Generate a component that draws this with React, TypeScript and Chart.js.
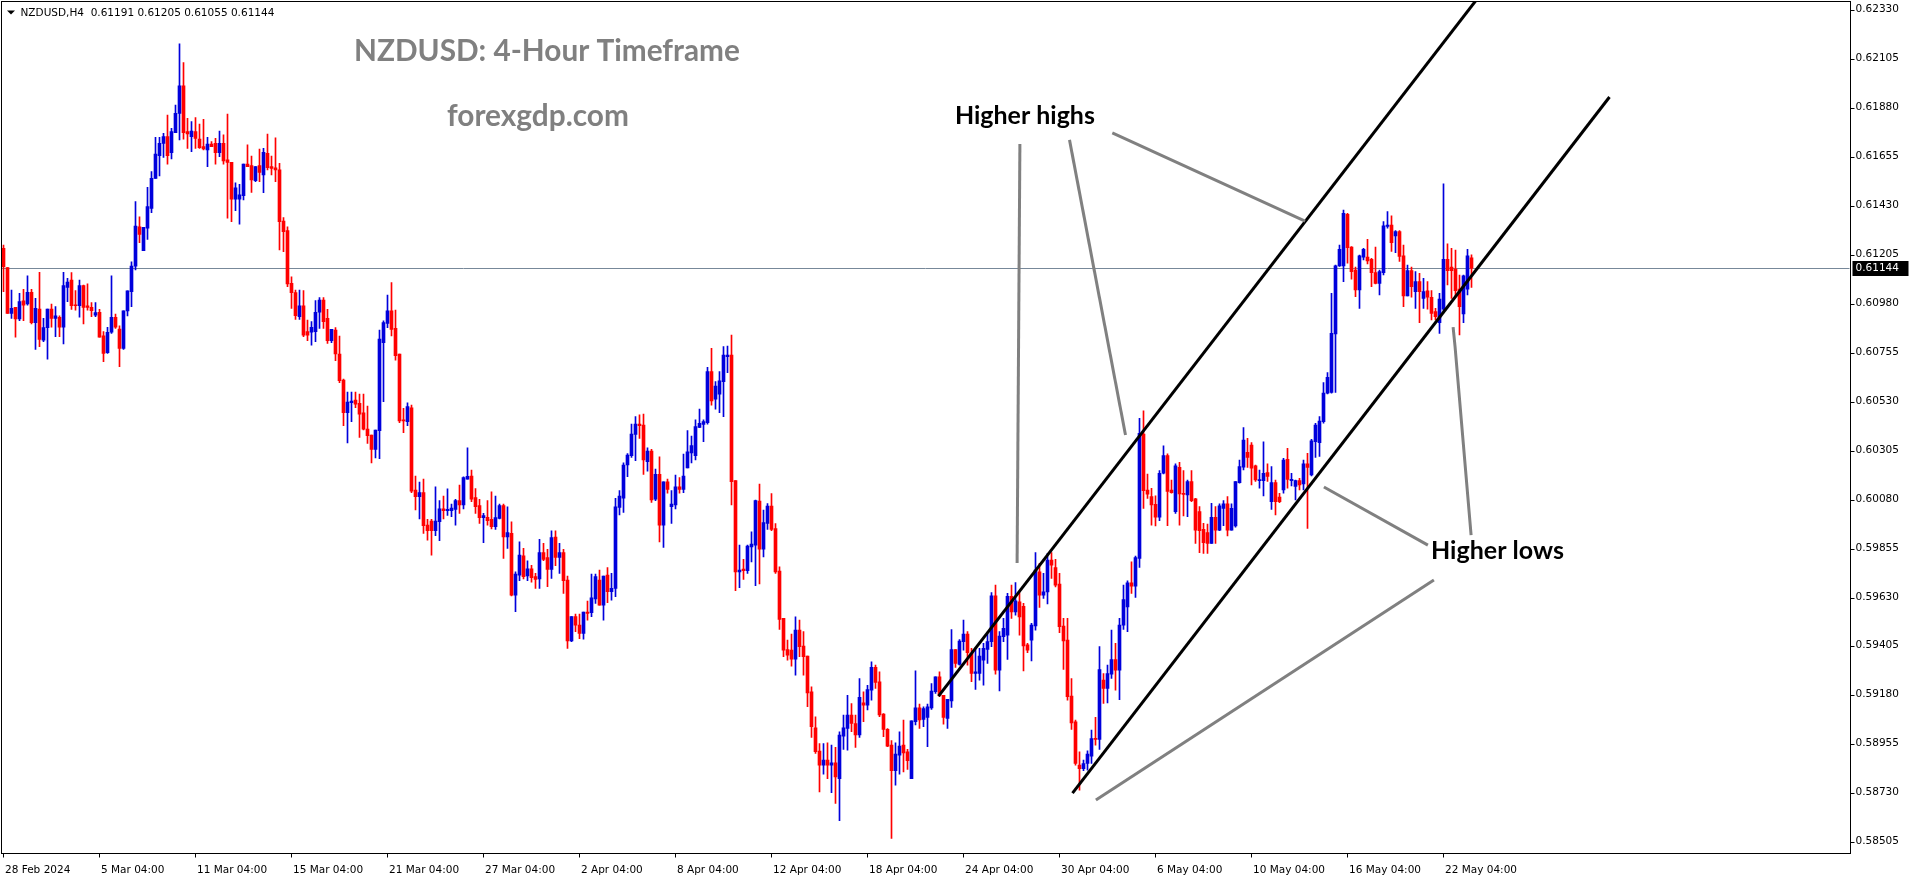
import React, { useEffect, useRef } from "react";
import { Chart, registerables } from "chart.js";

Chart.register(...registerables);

// ---------- data (prices in points, 1 point = 0.00001) ----------
const SYMBOL = "NZDUSD";
const TIMEFRAME = "H4";
const POINT = 0.00001;

const opens = [
61235,61146,60936,60963,60910,60993,60979,61032,60893,60956,60813,60870,60956,60913,60918,60872,61055,61089,60974,60971,
61063,60970,60963,60927,60941,60833,60755,60849,60918,60864,60775,60947,61036,61153,61334,61224,61327,61418,61556,61661,
61717,61748,61674,61766,61855,61981,61771,61748,61771,61737,61702,61687,61714,61717,61674,61717,61641,61630,61461,61461,
61477,61622,61615,61546,61615,61572,61671,61610,61605,61595,61360,61316,61074,61031,60921,60970,60852,60849,60852,60941,
60997,60913,60810,60859,60749,60629,60479,60525,60537,60522,60479,60404,60377,60311,60397,60801,60890,60948,60867,60749,
60446,60438,60502,60124,60093,60112,59963,59981,59937,59978,60037,60029,60029,60035,60075,60055,60174,60188,60089,60052,
59997,59998,59989,59955,59994,60052,59909,59925,59641,59733,59821,59729,59762,59726,59715,59836,59813,59759,59908,59814,
59836,59710,59431,59542,59503,59465,59563,59560,59623,59710,59595,59733,59657,59672,60044,60086,60239,60282,60380,60427,
60423,60254,60303,60082,60196,59963,60162,60047,60055,60139,60127,60226,60295,60282,60412,60426,60433,60668,60541,60564,
60622,60737,60744,60167,59748,59761,59753,59863,59871,60073,59852,59970,60050,59947,59751,59534,59391,59388,59347,59480,
59407,59361,59197,59031,58924,58860,58883,58860,58870,58798,58993,59028,59090,59051,58998,59146,59135,59204,59309,59243,
59094,59024,58952,58834,58906,58952,58921,58798,59059,59123,59070,59079,59123,59197,59266,59181,59074,59155,59391,59322,
59427,59462,59373,59281,59281,59342,59391,59427,59638,59296,59450,59457,59636,59564,59610,59590,59412,59434,59499,59748,
59641,59656,59802,59767,59692,59499,59434,59177,59059,58860,58844,58867,58901,58982,58978,59250,59212,59278,59345,59296,
59503,59587,59698,59682,59810,60381,60124,60094,60058,59999,60201,60282,60124,60025,60228,60109,60102,60163,60083,60025,
59943,59928,59879,59999,59940,60040,60060,59940,59959,60158,60229,60297,60331,60235,60167,60167,60204,60071,60158,60091,
60124,60265,60167,60140,60167,60152,60244,60193,60346,60342,60438,60569,60572,60841,61154,61154,61391,61240,61135,61044,
61194,61194,61184,61123,61074,61123,61335,61342,61292,61312,61200,61016,61132,61036,61082,61005,61039,61010,60944,60893,
60955,61184,61148,61139,61047,60933,61047,61191
];

const highs = [
61250,61146,61043,60963,61028,61046,61108,61046,61005,61124,60913,60956,60979,60967,60925,61124,61097,61123,61040,61089,
61066,61071,60985,60985,60954,60852,60872,61108,60933,60879,60947,61039,61173,61449,61380,61331,61515,61587,61745,61745,
61763,61847,61786,61893,62174,62088,61832,61817,61835,61806,61828,61745,61725,61740,61774,61756,61852,61630,61536,61529,
61622,61710,61659,61610,61691,61694,61760,61659,61743,61625,61376,61334,61104,61043,61043,61040,60905,60898,60994,61008,
61008,60954,60862,60871,60832,60634,60574,60574,60574,60565,60565,60510,60377,60400,60859,60902,61020,61077,60951,60749,
60499,60525,60514,60188,60161,60174,59989,59989,60139,60075,60096,60130,60059,60081,60147,60185,60318,60216,60131,60081,
60017,60075,60116,60096,60059,60059,60047,59978,59748,59886,59856,59799,59778,59741,59897,59879,59851,59937,59937,59879,
59851,59729,59542,59554,59554,59563,59614,59738,59738,59756,59729,59768,59741,60086,60121,60249,60292,60427,60461,60469,
60473,60318,60311,60220,60277,60162,60174,60121,60193,60181,60289,60397,60372,60446,60496,60446,60688,60775,60622,60668,
60783,60786,60836,60167,59871,59805,59871,59932,60078,60151,60032,60062,60108,59970,59771,59534,59434,59462,59541,59526,
59473,59361,59220,59082,58959,58959,58962,58952,58941,59013,59090,59181,59143,59090,59258,59197,59227,59335,59319,59289,
59097,59028,58972,58962,59013,59067,58932,59063,59293,59140,59128,59140,59235,59266,59289,59181,59162,59483,59391,59437,
59526,59473,59396,59396,59396,59419,59462,59653,59687,59473,59534,59649,59687,59699,59652,59603,59419,59511,59836,59787,
59741,59833,59836,59805,59741,59534,59534,59258,59067,58921,58883,58926,59021,59079,59404,59281,59319,59480,59419,59534,
59687,59707,59794,59820,60453,60488,60197,60132,60097,60213,60327,60290,60170,60244,60251,60213,60170,60213,60086,60048,
59971,59968,60063,60048,60060,60075,60094,60060,60163,60262,60411,60362,60342,60239,60216,60346,60244,60232,60170,60109,
60270,60316,60201,60170,60178,60262,60293,60357,60431,60461,60618,60664,61028,61158,61250,61411,61396,61243,61148,61204,
61235,61276,61189,61240,61135,61358,61404,61384,61316,61316,61250,61158,61148,61128,61120,61097,61082,61040,60959,61028,
61531,61255,61235,61227,61112,61112,61230,61205
];

const lows = [
61036,60936,60913,60826,60902,60902,60974,60887,60770,60783,60806,60725,60872,60829,60829,60795,60990,60954,60951,60918,
60887,60951,60921,60921,60826,60714,60752,60844,60867,60691,60770,60924,60967,61135,61261,61224,61276,61399,61556,61567,
61653,61621,61645,61766,61733,61736,61694,61679,61694,61694,61687,61610,61702,61621,61656,61622,61373,61357,61408,61346,
61457,61610,61492,61541,61541,61490,61595,61572,61541,61227,61219,61058,60959,60908,60908,60829,60810,60790,60806,60867,
60867,60798,60801,60718,60617,60420,60341,60438,60502,60366,60400,60338,60249,60272,60268,60530,60870,60832,60721,60433,
60387,60420,60112,60032,59991,59925,59894,59825,59914,59891,59991,60007,60001,59963,60017,60037,60174,60070,60017,59971,
59882,59963,59945,59943,59991,59810,59856,59637,59565,59707,59715,59707,59701,59672,59672,59799,59680,59718,59776,59741,
59649,59396,59427,59473,59441,59438,59526,59542,59603,59595,59526,59606,59618,59634,60009,60021,60185,60274,60259,60361,
60196,60211,60067,60075,59886,59860,60109,59971,60037,60109,60112,60226,60249,60262,60410,60346,60427,60514,60496,60479,
60461,60663,60055,59661,59675,59713,59741,59794,59684,59692,59817,59943,59937,59741,59483,59358,59342,59315,59273,59358,
59273,59128,58987,58913,58737,58818,58798,58733,58684,58604,58932,58929,59013,58941,58987,59059,59113,59158,59212,59082,
58990,58944,58523,58768,58818,58829,58840,58798,59044,59028,59036,58944,59116,59189,59174,59048,59028,59125,59309,59319,
59388,59319,59243,59208,59250,59227,59327,59404,59278,59201,59427,59345,59534,59549,59457,59293,59376,59339,59480,59584,
59626,59600,59718,59679,59468,59299,59158,59024,58860,58745,58834,58837,58867,58952,58932,59143,59146,59258,59204,59161,
59483,59473,59649,59630,59768,60039,60085,59963,59959,59983,60198,59960,60109,60017,59963,60005,60002,60071,59879,59836,
59833,59833,59879,59879,59937,59960,59913,59940,59953,60155,60216,60228,60147,60163,60132,60097,60163,60035,60009,60066,
60109,60132,60143,60078,60124,60124,59948,60189,60274,60278,60431,60566,60569,60572,61151,61082,61166,61093,61013,60959,
61181,61163,61059,61071,61021,61112,61327,61220,61215,61174,60967,61016,61010,60959,60893,60959,60955,60906,60906,60844,
60939,61066,61005,61013,60837,60893,61021,61055
];

const closes = [
61150,60936,60959,60910,60990,60974,61032,60893,60959,60816,60870,60956,60913,60924,60872,61063,61080,60971,60971,61063,
60963,60963,60948,60939,60826,60752,60849,60918,60872,60775,60947,61039,61153,61337,61299,61331,61426,61556,61668,61717,
61748,61661,61771,61855,61981,61766,61760,61774,61740,61697,61691,61714,61702,61674,61717,61636,61630,61461,61513,61480,
61622,61610,61549,61610,61584,61676,61605,61602,61595,61357,61311,61071,61031,60925,60970,60836,60836,60872,60941,60997,
60898,60810,60862,60749,60626,60479,60528,60533,60519,60473,60404,60374,60311,60400,60818,60893,60948,60862,60741,60442,
60442,60507,60119,60093,60112,59960,59937,59937,59981,60037,60029,60035,60041,60075,60055,60181,60187,60082,60047,59997,
60006,59983,59955,59997,60052,59909,59928,59641,59738,59825,59726,59762,59721,59713,59836,59805,59759,59905,59814,59836,
59707,59431,59542,59503,59465,59563,59557,59629,59726,59595,59729,59657,59672,60047,60096,60239,60285,60381,60427,60420,
60262,60303,60078,60196,59963,60162,60127,60059,60139,60127,60188,60300,60328,60415,60430,60438,60668,60534,60602,60626,
60744,60744,60162,59748,59756,59753,59866,59875,60075,59852,59974,60050,59943,59748,59529,59388,59365,59347,59480,59404,
59358,59192,59036,58921,58860,58883,58860,58870,58806,58998,59031,59090,59051,58998,59171,59135,59207,59309,59240,59090,
59024,58947,58834,58910,58947,58916,58880,59063,59123,59067,59120,59128,59200,59266,59181,59079,59162,59391,59327,59430,
59462,59376,59281,59289,59361,59396,59427,59638,59296,59453,59488,59636,59564,59615,59541,59407,59388,59503,59756,59641,
59656,59802,59779,59687,59496,59431,59174,59054,58867,58844,58867,58910,58982,58978,59299,59212,59281,59345,59296,59503,
59621,59698,59682,59813,60384,60121,60105,60055,59999,60201,60282,60117,60112,60235,60106,60104,60163,60075,59940,59937,
59882,59879,59999,59940,60051,60060,59940,60040,60163,60232,60354,60274,60224,60170,60170,60201,60186,60158,60071,60071,
60262,60173,60173,60167,60147,60244,60228,60350,60423,60441,60569,60642,60844,61154,61230,61396,61238,61128,61044,61200,
61230,61177,61123,61074,61128,61338,61342,61261,61312,61197,61016,61132,61059,61082,61036,61036,61010,60936,60921,61001,
61184,61132,61132,61040,60967,61108,61200,61144
];

// x axis: one slot per 4-hour bar (chart leaves empty room on the right)
const TOTAL_SLOTS = 462;
const X_TICK_STEP = 24;
const xTickLabels = [
  "28 Feb 2024", "5 Mar 04:00", "11 Mar 04:00", "15 Mar 04:00", "21 Mar 04:00", "27 Mar 04:00",
  "2 Apr 04:00", "8 Apr 04:00", "12 Apr 04:00", "18 Apr 04:00", "24 Apr 04:00", "30 Apr 04:00",
  "6 May 04:00", "10 May 04:00", "16 May 04:00", "22 May 04:00",
];

// y axis
const yTickValues = [
  0.6233, 0.62105, 0.6188, 0.61655, 0.6143, 0.61205, 0.6098, 0.60755, 0.6053,
  0.60305, 0.6008, 0.59855, 0.5963, 0.59405, 0.5918, 0.58955, 0.5873, 0.58505,
];
const Y_MIN = 0.584605;
const Y_MAX = 0.623713;

// annotations (bar index, price)
const TITLE = "NZDUSD: 4-Hour Timeframe";
const SITE = "forexgdp.com";
const LABEL_HIGHS = "Higher highs";
const LABEL_LOWS = "Higher lows";
const channelUpper: number[][] = [[233.75, 0.59177], [368, 0.62371]];
const channelLower: number[][] = [[267.25, 0.58731], [401.5, 0.6193]];
const pointerLines: number[][][] = [
  [[254.1, 0.61714], [253.4, 0.59789]],
  [[266.5, 0.61733], [280.5, 0.60377]],
  [[277.2, 0.61765], [325.4, 0.6136]],
  [[330.1, 0.60138], [356.1, 0.59871]],
  [[273.1, 0.58699], [357.6, 0.5971]],
  [[362.4, 0.60873], [362.9, 0.60781], [366.9, 0.59917]],
];

const BULL = "#0000dc";
const BEAR = "#ff0000";

// ---------- derived ----------
const last = closes.length - 1;
const CURRENT_PRICE = closes[last] * POINT;
const fmt = (v: number) => v.toFixed(5);
const HEADER = `${SYMBOL},${TIMEFRAME}  ${fmt(opens[last] * POINT)} ${fmt(highs[last] * POINT)} ${fmt(lows[last] * POINT)} ${fmt(closes[last] * POINT)}`;

const slotLabels = Array.from({ length: TOTAL_SLOTS }, (_, i) => String(i));
const bodies = closes.map((c, i) => [Math.min(opens[i], c) * POINT, Math.max(opens[i], c) * POINT]);
const wicks = closes.map((c, i) => [
  Math.min(lows[i], opens[i], c) * POINT,
  Math.max(highs[i], opens[i], c) * POINT,
]);
const colors = closes.map((c, i) => (c >= opens[i] ? BULL : BEAR));

const AXIS_FONT = "10.5px 'DejaVu Sans'";

function drawFitted(ctx: CanvasRenderingContext2D, text: string, x: number, baseline: number, width: number, color: string) {
  ctx.font = "bold 100px Lato";
  const w = ctx.measureText(text).width;
  const size = (100 * width) / w;
  ctx.font = `bold ${size}px Lato`;
  ctx.fillStyle = color;
  ctx.textAlign = "left";
  ctx.textBaseline = "alphabetic";
  ctx.fillText(text, x, baseline);
}

const overlay = {
  id: "mt4overlay",
  beforeDraw(chart: any) {
    const { ctx, width, height } = chart;
    ctx.save();
    ctx.fillStyle = "#ffffff";
    ctx.fillRect(0, 0, width, height);
    ctx.restore();
  },
  beforeDatasetsDraw(chart: any) {
    const { ctx, chartArea } = chart;
    const y = Math.round(chart.scales.y.getPixelForValue(CURRENT_PRICE)) + 0.5;
    ctx.save();
    ctx.strokeStyle = "#778899";
    ctx.lineWidth = 1;
    ctx.beginPath();
    ctx.moveTo(chartArea.left, y);
    ctx.lineTo(chartArea.right, y);
    ctx.stroke();
    ctx.restore();
  },
  afterDatasetsDraw(chart: any) {
    const { ctx, chartArea } = chart;
    const xs = chart.scales.x;
    const ys = chart.scales.y;
    const px = (p: number[]) => [xs.getPixelForValue(p[0]), ys.getPixelForValue(p[1])];

    ctx.save();
    ctx.beginPath();
    ctx.rect(chartArea.left, chartArea.top, chartArea.right - chartArea.left, chartArea.bottom - chartArea.top);
    ctx.clip();
    const poly = (pts: number[][], color: string, w: number) => {
      ctx.strokeStyle = color;
      ctx.lineWidth = w;
      ctx.lineCap = "butt";
      ctx.lineJoin = "round";
      ctx.beginPath();
      pts.forEach((p, i) => {
        const [x, y] = px(p);
        if (i === 0) ctx.moveTo(x, y);
        else ctx.lineTo(x, y);
      });
      ctx.stroke();
    };
    poly(channelUpper, "#000000", 3);
    poly(channelLower, "#000000", 3);
    pointerLines.forEach((l) => poly(l, "#808080", 3));

    drawFitted(ctx, TITLE, 354, 61, 386, "#808080");
    drawFitted(ctx, SITE, 447, 126, 182, "#808080");
    drawFitted(ctx, LABEL_HIGHS, 955, 124, 140, "#000000");
    drawFitted(ctx, LABEL_LOWS, 1431, 559, 133, "#000000");
    ctx.restore();

    // header
    ctx.save();
    ctx.fillStyle = "#000";
    ctx.beginPath();
    ctx.moveTo(7, 10.5);
    ctx.lineTo(15, 10.5);
    ctx.lineTo(11, 14.5);
    ctx.closePath();
    ctx.fill();
    ctx.font = AXIS_FONT;
    ctx.textBaseline = "middle";
    ctx.textAlign = "left";
    ctx.fillText(HEADER, 20.5, 13);

    // frame
    ctx.strokeStyle = "#000";
    ctx.lineWidth = 1;
    ctx.strokeRect(1.5, 1.5, Math.round(chartArea.right) - 1, Math.round(chartArea.bottom));

    const right = Math.round(chartArea.right) + 0.5;
    const bottom = Math.round(chartArea.bottom) + 1.5;

    // y axis ticks
    ctx.font = AXIS_FONT;
    ctx.textBaseline = "middle";
    yTickValues.forEach((v) => {
      const y = Math.round(ys.getPixelForValue(v)) + 0.5;
      ctx.beginPath();
      ctx.moveTo(right, y);
      ctx.lineTo(right + 4, y);
      ctx.stroke();
      ctx.fillStyle = "#000";
      ctx.fillText(fmt(v), right + 5, y - 1);
    });

    // current price tag
    const cy = Math.round(ys.getPixelForValue(CURRENT_PRICE));
    ctx.fillStyle = "#000";
    ctx.fillRect(right + 2, cy - 7, 56, 15);
    ctx.fillStyle = "#fff";
    ctx.fillText(fmt(CURRENT_PRICE), right + 5, cy);

    // x axis ticks
    ctx.fillStyle = "#000";
    xTickLabels.forEach((lab, k) => {
      const x = Math.round(xs.getPixelForValue(k * X_TICK_STEP)) - 0.5;
      ctx.beginPath();
      ctx.moveTo(x, bottom);
      ctx.lineTo(x, bottom + 4);
      ctx.stroke();
      ctx.fillText(lab, x + 1.5, bottom + 17);
    });
    ctx.restore();
  },
};

export default function App() {
  const ref = useRef<HTMLCanvasElement>(null);
  useEffect(() => {
    const canvas = ref.current;
    if (!canvas) return;
    const chart = new Chart(canvas, {
      type: "bar",
      data: {
        labels: slotLabels,
        datasets: [
          {
            data: bodies as any,
            backgroundColor: colors,
            barThickness: 3,
            minBarLength: 1,
            grouped: false,
            borderWidth: 0,
          } as any,
          {
            data: wicks as any,
            backgroundColor: colors,
            barThickness: 1,
            grouped: false,
            borderWidth: 0,
          } as any,
        ],
      },
      options: {
        responsive: false,
        maintainAspectRatio: false,
        animation: false,
        events: [],
        devicePixelRatio: 1,
        layout: { padding: { left: 1.5, right: 64.5, top: 1, bottom: 32 } },
        scales: {
          x: { type: "category", display: false, offset: true, grid: { display: false } },
          y: { type: "linear", display: false, min: Y_MIN, max: Y_MAX },
        },
        plugins: { legend: { display: false }, tooltip: { enabled: false }, title: { display: false } },
      },
      plugins: [overlay],
    });
    return () => chart.destroy();
  }, []);
  return (
    <div style={{ position: "fixed", left: 0, top: 0, width: 1914, height: 884, background: "#fff" }}>
      <canvas ref={ref} width={1914} height={884} style={{ display: "block", width: 1914, height: 884 }} />
    </div>
  );
}
